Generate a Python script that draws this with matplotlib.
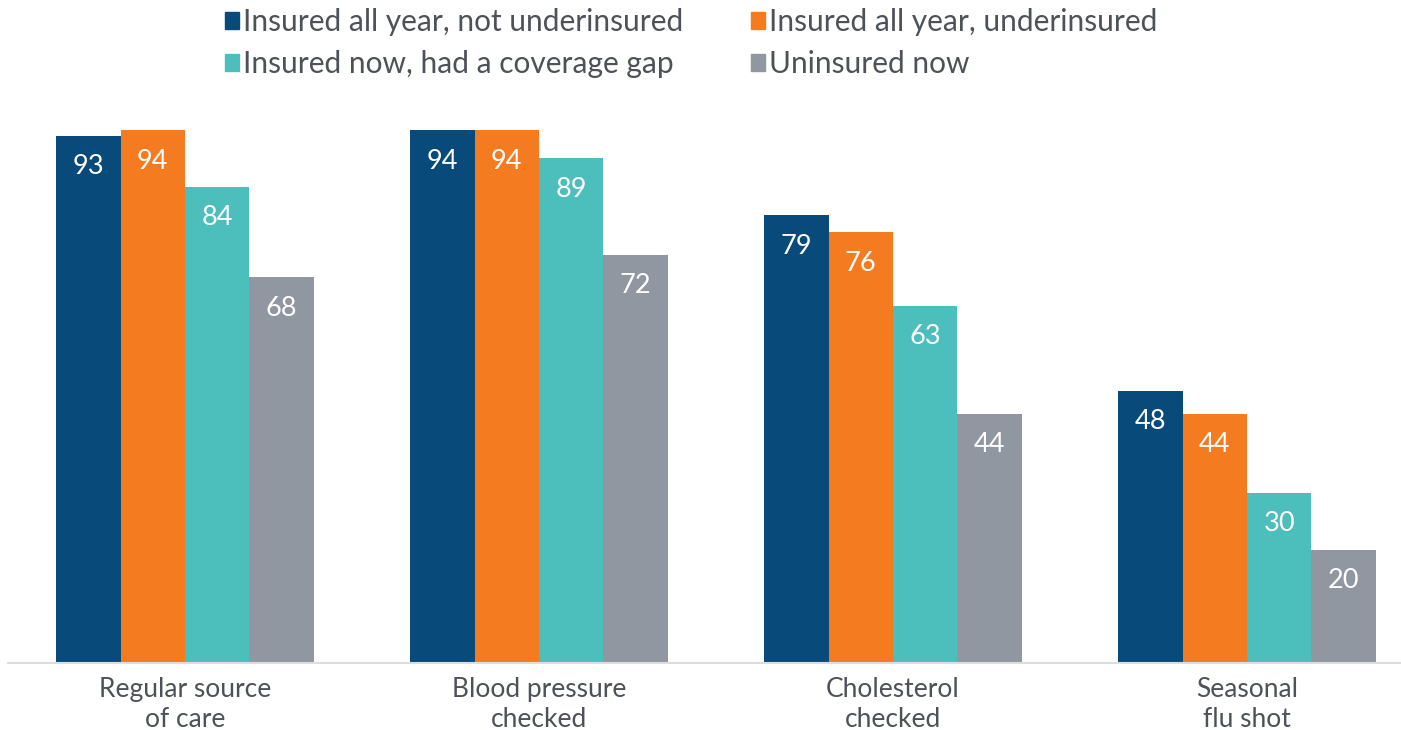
import matplotlib.pyplot as plt
import numpy as np
from matplotlib.patches import Patch

plt.rcParams["font.family"] = ["Lato", "DejaVu Sans"]

categories = ["Regular source\nof care", "Blood pressure\nchecked", "Cholesterol\nchecked", "Seasonal\nflu shot"]
series = [
    "Insured all year, not underinsured",
    "Insured all year, underinsured",
    "Insured now, had a coverage gap",
    "Uninsured now",
]
not_underinsured = [93, 94, 79, 48]
underinsured = [94, 94, 76, 44]
coverage_gap = [84, 89, 63, 30]
uninsured = [68, 72, 44, 20]
values = [not_underinsured, underinsured, coverage_gap, uninsured]
colors = ["#084B7B", "#F47B20", "#4CBEBC", "#9097A1"]
text_color = "#4D5158"

fig = plt.figure(figsize=(14.01, 7.30), dpi=100)
ax = fig.add_axes([8 / 1401, 67 / 730, 1393 / 1401, 567 / 730])

x = np.arange(len(categories))
width = 0.182
for i, (vals, color) in enumerate(zip(values, colors)):
    bars = ax.bar(x + (i - 1.5) * width, vals, width, color=color, zorder=2)
    for bar, v in zip(bars, vals):
        ax.annotate(str(v), (bar.get_x() + bar.get_width() / 2, v),
                    xytext=(0, -31), textcoords="offset pixels",
                    ha="center", va="center", color="white", fontsize=19.5)

ax.set_xlim(-0.5, -0.5 + 1393 / 354)
ax.set_ylim(0, 100)
ax.set_xticks(x)
ax.set_xticklabels(categories, fontsize=19, color=text_color, linespacing=1.25)
ax.tick_params(axis="x", length=0, pad=10)
ax.set_yticks([])
for side in ["top", "left", "right"]:
    ax.spines[side].set_visible(False)
ax.spines["bottom"].set_color("#DDDDDD")
ax.spines["bottom"].set_linewidth(1.5)

handles = [Patch(color=c) for c in colors]
order = [0, 2, 1, 3]
fig.legend([handles[i] for i in order], [series[i] for i in order],
           loc="upper left", bbox_to_anchor=(225 / 1401, 1 - 8 / 730),
           ncol=2, frameon=False, fontsize=21.5, labelcolor=text_color,
           handlelength=0.48, handleheight=0.48, handletextpad=0.12,
           columnspacing=2.27, labelspacing=0.48, borderpad=0, borderaxespad=0)

fig.savefig("out.png", dpi=100)
